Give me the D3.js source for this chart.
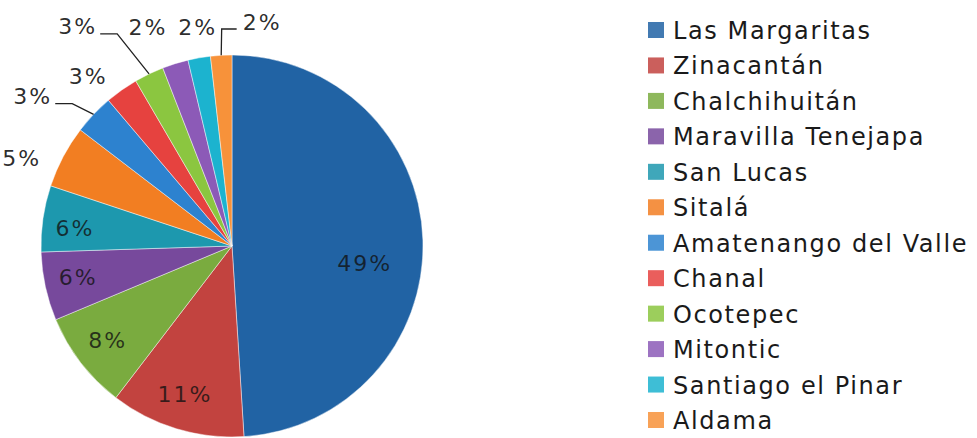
<!DOCTYPE html>
<html>
<head>
<meta charset="utf-8">
<script src="https://cdn.jsdelivr.net/npm/d3@7"></script>
<style>
	html, body { margin: 0; padding: 0; background: #fff; }
	svg text { font-family: 'DejaVu Sans', 'Open Sans', sans-serif; }
	.pct-label { font-size: 22px; letter-spacing: 2px; }
	.legend-label { font-size: 24px; fill: #1a1a1a; letter-spacing: 1.6px; }
	.leader { fill: none; stroke: #222; stroke-width: 1.3; }
</style>
</head>
<body>
<div id="chart"></div>
<script>
const municipios = [
	'Las Margaritas', 'Zinacantán', 'Chalchihuitán', 'Maravilla Tenejapa',
	'San Lucas', 'Sitalá', 'Amatenango del Valle', 'Chanal',
	'Ocotepec', 'Mitontic', 'Santiago el Pinar', 'Aldama',
];
const porcentajes = [49.0, 11.4, 8.3, 5.8, 5.6, 5.3, 3.4, 2.8, 2.5, 2.2, 1.9, 1.8];
const colores = [
	'#2163a4', '#c2433f', '#7aab3f', '#77499c', '#1d98ae', '#f27e22',
	'#2d82cf', '#e6423f', '#8bc640', '#8c5ab7', '#1cb3cf', '#f7923a',
];

// label placement (radius from centre, angle shift in degrees, leader line)
const labelLayout = [
	{ r: 134, shift: 9.5 }, { r: 156, shift: 0.6 }, { r: 156, shift: 0.5 },
	{ r: 157, shift: 0.6 }, { r: 158, shift: -1.8 }, { r: 228, shift: -5.2 },
	{ r: 249, shift: -6.7, leader: true }, { r: 222, shift: -5.1 },
	{ r: 268, shift: -9.4, leader: true }, { r: 234, shift: -3.8 },
	{ r: 221, shift: 1 }, { r: 226, shift: 10.9, leader: true },
];

const width = 977;
const height = 438;
const cx = 232;
const cy = 246;
const radius = 191;

const svg = d3.select('#chart').append('svg')
	.attr('width', width)
	.attr('height', height);

const rows = municipios.map((m, i) => ({ name: m, value: porcentajes[i], i }));
const color = d3.scaleOrdinal().domain(municipios).range(colores);

const pie = d3.pie().sort(null).value(d => d.value);
const arcs = pie(rows);
const arc = d3.arc().innerRadius(0).outerRadius(radius);

const g = svg.append('g').attr('transform', `translate(${cx}, ${cy})`);

g.selectAll('path.slice')
	.data(arcs)
	.enter().append('path')
		.attr('class', 'slice')
		.attr('d', arc)
		.style('fill', d => color(d.data.name))
		.style('stroke', 'rgba(255,255,255,0.45)')
		.style('stroke-width', 1);

const polar = (ang, r) => [Math.sin(ang) * r, -Math.cos(ang) * r];

// percentage labels
arcs.forEach((d) => {
	const lay = labelLayout[d.data.i];
	const mid = (d.startAngle + d.endAngle) / 2;
	const [x, y] = polar(mid + lay.shift * Math.PI / 180, lay.r);
	const t = g.append('text')
		.attr('class', 'pct-label')
		.attr('x', x)
		.attr('y', y)
		.attr('text-anchor', 'middle')
		.attr('dominant-baseline', 'central')
		.style('fill', '#111')
		.style('fill-opacity', d.data.i < 5 ? 0.78 : 0.9)
		.text(`${Math.round(d.data.value)}%`);

	if (lay.leader) {
		const box = t.node().getBBox();
		const edge = polar(mid, radius);
		const ly = y + 7;
		let pts;
		if (x < edge[0] - 20) {
			const right = box.x + box.width;
			pts = [[right + 3, ly], [right + 20, ly], edge];
		} else {
			const left = box.x;
			pts = [[left - 6, ly], [left - 21, ly], edge];
		}
		g.append('path')
			.attr('class', 'leader')
			.attr('d', d3.line()(pts));
	}
});

// legend
const legendY = d3.scalePoint()
	.domain(municipios)
	.range([30, 420]);

const legend = svg.append('g').attr('class', 'legend');
const items = legend.selectAll('g.item')
	.data(rows)
	.enter().append('g')
		.attr('class', 'item')
		.attr('transform', d => `translate(648, ${legendY(d.name)})`);
items.append('rect')
	.attr('x', 0)
	.attr('y', -8)
	.attr('width', 16)
	.attr('height', 16)
	.style('fill', d => color(d.name))
	.style('fill-opacity', 0.85);
items.append('text')
	.attr('class', 'legend-label')
	.attr('x', 25)
	.attr('y', 1)
	.attr('dominant-baseline', 'central')
	.text(d => d.name);
</script>
</body>
</html>
